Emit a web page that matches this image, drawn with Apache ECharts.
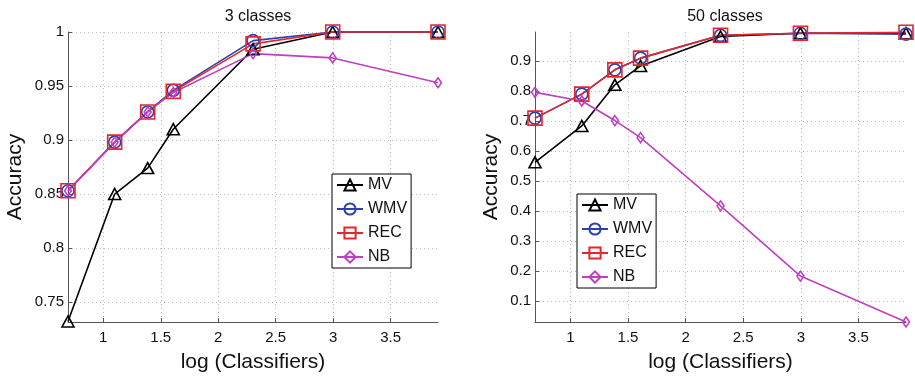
<!DOCTYPE html>
<html>
<head>
<meta charset="utf-8">
<script src="https://cdn.jsdelivr.net/npm/echarts@6/dist/echarts.min.js"></script>
<style>html,body{margin:0;padding:0;background:#fff}#c{width:915px;height:378px}</style>
</head>
<body>
<div id="c"></div>
<script>
// x = log(number of classifiers): 2,3,4,5,10,20,50
const xValues = [0.693, 1.099, 1.386, 1.609, 2.303, 2.996, 3.912];
const xTicks = [1, 1.5, 2, 2.5, 3, 3.5];

// 3 classes
const mv3  = [0.732, 0.850, 0.874, 0.910, 0.984, 1.000, 1.000];
const wmv3 = [0.853, 0.898, 0.926, 0.946, 0.992, 1.000, 1.000];
const rec3 = [0.853, 0.898, 0.926, 0.945, 0.989, 1.000, 1.000];
const nb3  = [0.853, 0.898, 0.926, 0.944, 0.980, 0.976, 0.953];
const yTicks3 = [0.75, 0.8, 0.85, 0.9, 0.95, 1];

// 50 classes
const mv50  = [0.562, 0.683, 0.820, 0.883, 0.981, 0.992, 0.992];
const wmv50 = [0.709, 0.789, 0.870, 0.909, 0.985, 0.992, 0.989];
const rec50 = [0.709, 0.789, 0.870, 0.909, 0.985, 0.992, 0.995];
const nb50  = [0.795, 0.766, 0.701, 0.644, 0.417, 0.183, 0.030];
const yTicks50 = [0.1, 0.2, 0.3, 0.4, 0.5, 0.6, 0.7, 0.8, 0.9];

const names = ['MV', 'WMV', 'REC', 'NB'];
const FONT = 'Liberation Sans, Arial, Helvetica, sans-serif';

const styles = {
  MV:  {color: '#000000', symbol: 'triangle', size: [12, 11]},
  WMV: {color: '#2f3fae', symbol: 'circle', size: 12},
  REC: {color: '#e5262a', symbol: 'rect', size: 14},
  NB:  {color: '#c03fc0', symbol: 'diamond', size: [7, 10]}
};

function mkSeries(name, vals, idx) {
  const s = styles[name];
  return {
    name: name, type: 'line', xAxisIndex: idx, yAxisIndex: idx,
    data: xValues.map((x, i) => [x, vals[i]]),
    symbol: s.symbol, symbolSize: s.size, showAllSymbol: true,
    lineStyle: {color: s.color, width: 1.6},
    itemStyle: {color: 'rgba(255,255,255,0)', borderColor: s.color, borderWidth: 1.6},
    emphasis: {disabled: true}, animation: false, z: 3
  };
}

function mkX(idx) {
  return {
    type: 'value', gridIndex: idx, min: xValues[0], max: xValues[xValues.length - 1],
    name: 'log (Classifiers)', nameLocation: 'middle', nameGap: 30,
    nameTextStyle: {fontFamily: FONT, fontSize: 21, color: '#111'},
    axisLine: {show: true, onZero: false, lineStyle: {color: '#555', width: 1}},
    axisTick: {show: true, inside: true, length: 4, customValues: xTicks, lineStyle: {color: '#555'}},
    axisLabel: {customValues: xTicks, fontFamily: FONT, fontSize: 15, color: '#111', margin: 8},
    splitLine: {show: true, lineStyle: {color: '#bbb', type: [1, 3], width: 1}}
  };
}

function mkY(idx, mn, mx, ticks) {
  return {
    type: 'value', gridIndex: idx, min: mn, max: mx,
    name: 'Accuracy', nameLocation: 'middle', nameGap: idx === 0 ? 42 : 33,
    nameTextStyle: {fontFamily: FONT, fontSize: 21, color: '#111'},
    axisLine: {show: true, onZero: false, lineStyle: {color: '#555', width: 1}},
    axisTick: {show: true, inside: true, length: 4, customValues: ticks, lineStyle: {color: '#555'}},
    axisLabel: {customValues: ticks, fontFamily: FONT, fontSize: 15, color: '#111', margin: 4},
    splitLine: {show: true, lineStyle: {color: '#bbb', type: [1, 3], width: 1}}
  };
}

function mkLegend(left, top) {
  return {
    data: names, orient: 'vertical', left: left, top: top,
    backgroundColor: '#fff', borderColor: '#000', borderWidth: 1, borderRadius: 0,
    padding: [3, 4, 3, 4], itemGap: 8, itemWidth: 26, itemHeight: 14,
    textStyle: {fontFamily: FONT, fontSize: 16, color: '#111'},
    selectedMode: false
  };
}

const chart = echarts.init(document.getElementById('c'), null, {renderer: 'canvas'});
chart.setOption({
  animation: false,
  backgroundColor: '#fff',
  title: [
    {text: '3 classes', left: 253, top: 4, textAlign: 'center',
     textStyle: {fontFamily: FONT, fontSize: 16, fontWeight: 'normal', color: '#111'}},
    {text: '50 classes', left: 720, top: 4, textAlign: 'center',
     textStyle: {fontFamily: FONT, fontSize: 16, fontWeight: 'normal', color: '#111'}}
  ],
  legend: [mkLegend(332, 174), mkLegend(577, 194)],
  grid: [
    {left: 68, top: 32, width: 370, height: 290, containLabel: false},
    {left: 535, top: 32, width: 371, height: 290, containLabel: false}
  ],
  xAxis: [mkX(0), mkX(1)],
  yAxis: [mkY(0, 0.7315, 1.0, yTicks3), mkY(1, 0.03, 0.996, yTicks50)],
  series: [
    mkSeries('MV', mv3, 0), mkSeries('WMV', wmv3, 0), mkSeries('REC', rec3, 0), mkSeries('NB', nb3, 0),
    mkSeries('MV', mv50, 1), mkSeries('WMV', wmv50, 1), mkSeries('REC', rec50, 1), mkSeries('NB', nb50, 1)
  ]
});
</script>
</body>
</html>
